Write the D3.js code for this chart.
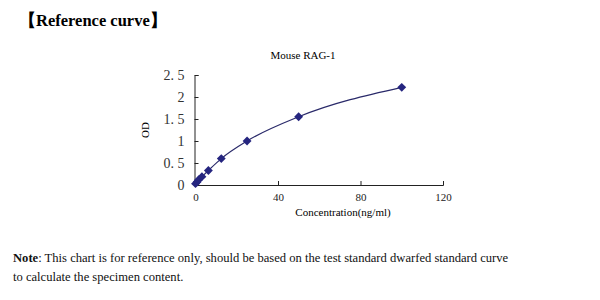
<!DOCTYPE html>
<html>
<head>
<meta charset="utf-8">
<script src="https://cdn.jsdelivr.net/npm/d3@7"></script>
<style>
  body { margin: 0; background: #fff; }
  svg { display: block; }
  .serif { font-family: "Liberation Serif", "Times New Roman", serif; }
</style>
</head>
<body>
<div id="chart"></div>
<script>
// standard curve values
const concentration = [0, 0.78, 1.56, 3.12, 6.25, 12.5, 25, 50, 100];
const opticalDensity = [0.03, 0.07, 0.12, 0.19, 0.33, 0.6, 1.0, 1.55, 2.22];
const xTicks = [0, 40, 80, 120];
const yTicks = [0, 0.5, 1, 1.5, 2, 2.5];

const width = 600;
const height = 300;
const markColor = '#25257f';

const svg = d3.select('#chart')
  .append('svg')
  .attr('width', width)
  .attr('height', height);

svg.append('rect')
  .attr('width', width)
  .attr('height', height)
  .attr('fill', '#fff');

const x = d3.scaleLinear().domain([0, 120]).range([195.5, 443]);
const y = d3.scaleLinear().domain([0, 2.5]).range([185, 75]);

// heading
svg.append('text')
  .attr('class', 'serif')
  .attr('x', 19)
  .attr('y', 26)
  .attr('font-size', 16.5)
  .attr('font-weight', 'bold')
  .text('【Reference curve】');

svg.append('text')
  .attr('class', 'serif')
  .attr('x', 303)
  .attr('y', 59)
  .attr('text-anchor', 'middle')
  .attr('font-size', 11)
  .text('Mouse RAG-1');

// axes, ticks pointing into the plot
const xAxis = d3.axisBottom(x).tickValues(xTicks).tickSize(-4).tickPadding(8);
const yAxis = d3.axisLeft(y).tickValues(yTicks).tickSize(-4).tickPadding(10)
  .tickFormat(d => String(d).replace('.', '. '));

const gx = svg.append('g')
  .attr('transform', `translate(0, ${y(0)})`)
  .call(xAxis);
gx.selectAll('text')
  .attr('class', 'serif')
  .attr('font-size', 11)
  .attr('fill', '#222');

const gy = svg.append('g')
  .attr('transform', `translate(${x(0) - 1}, 0)`)
  .call(yAxis);
gy.selectAll('text')
  .attr('class', 'serif')
  .attr('font-size', 14)
  .attr('fill', '#333')
  .attr('dy', '0.35em');

svg.selectAll('.domain, .tick line').attr('stroke', '#222');

svg.append('text')
  .attr('class', 'serif')
  .attr('transform', `translate(149, ${(y(0) + y(2.5)) / 2}) rotate(-90)`)
  .attr('text-anchor', 'middle')
  .attr('font-size', 11)
  .text('OD');

svg.append('text')
  .attr('class', 'serif')
  .attr('x', 343)
  .attr('y', 216)
  .attr('text-anchor', 'middle')
  .attr('font-size', 11)
  .text('Concentration(ng/ml)');

// curve and markers
const points = concentration.map((c, i) => ({ c, od: opticalDensity[i] }));

const line = d3.line()
  .x(p => x(p.c))
  .y(p => y(p.od))
  .curve(d3.curveMonotoneX);

svg.append('path')
  .datum(points)
  .attr('d', line)
  .attr('fill', 'none')
  .attr('stroke', '#2a2a6a')
  .attr('stroke-width', 1.2);

svg.selectAll('.marker')
  .data(points)
  .enter()
  .append('path')
  .attr('class', 'marker')
  .attr('d', d3.symbol(d3.symbolDiamond2, 50))
  .attr('transform', p => `translate(${x(p.c)},${y(p.od)})`)
  .attr('fill', markColor);

// footnote
const note = svg.append('text')
  .attr('class', 'serif')
  .attr('x', 13)
  .attr('y', 262)
  .attr('font-size', 12.6)
  .attr('fill', '#111');
note.append('tspan').attr('font-weight', 'bold').text('Note');
note.append('tspan').text(': This chart is for reference only, should be based on the test standard dwarfed standard curve');

svg.append('text')
  .attr('class', 'serif')
  .attr('x', 13)
  .attr('y', 281)
  .attr('font-size', 12.6)
  .attr('fill', '#111')
  .text('to calculate the specimen content.');
</script>
</body>
</html>
